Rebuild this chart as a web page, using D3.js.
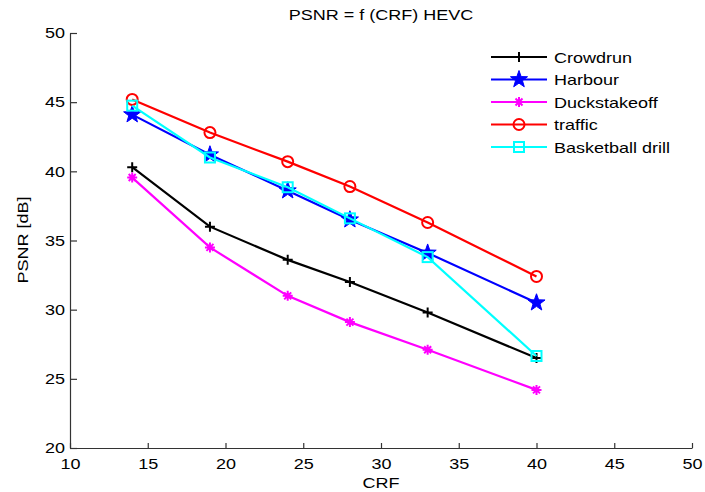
<!DOCTYPE html>
<html><head><meta charset="utf-8">
<script src="https://cdn.jsdelivr.net/npm/d3@7"></script>
<style>body{margin:0;background:#fff;} text{font-family:"Liberation Sans",Arial,sans-serif;}</style>
</head><body>
<svg id="c" width="705" height="492"></svg>
<script>
const crf = [14, 19, 24, 28, 33, 40];
const crowdrun = [40.3, 36.0, 33.6, 32.0, 29.8, 26.5];
const harbour = [44.1, 41.2, 38.6, 36.5, 34.1, 30.5];
const duckstakeoff = [39.55, 34.5, 31.0, 29.1, 27.1, 24.2];
const traffic = [45.2, 42.8, 40.7, 38.9, 36.3, 32.4];
const basketball = [44.75, 41.0, 38.85, 36.6, 33.8, 26.65];
const xTicks = [10, 15, 20, 25, 30, 35, 40, 45, 50];
const yTicks = [20, 25, 30, 35, 40, 45, 50];
const seriesNames = ["Crowdrun", "Harbour", "Duckstakeoff", "traffic", "Basketball drill"];

const series = [
  {name: seriesNames[0], vals: crowdrun, color: "#000000", marker: "plus"},
  {name: seriesNames[1], vals: harbour, color: "#0000ff", marker: "star5"},
  {name: seriesNames[2], vals: duckstakeoff, color: "#ff00ff", marker: "asterisk"},
  {name: seriesNames[3], vals: traffic, color: "#ff0000", marker: "circle"},
  {name: seriesNames[4], vals: basketball, color: "#00ffff", marker: "square"}
];

const svg = d3.select("#c");
const x = d3.scaleLinear().domain([10, 50]).range([70, 692]);
const y = d3.scaleLinear().domain([20, 50]).range([448, 33]);

// axes
const xAxis = svg.append("g").attr("transform", "translate(0,448)")
  .call(d3.axisBottom(x).tickValues(xTicks).tickSizeInner(-5).tickSizeOuter(0).tickPadding(8));
const yAxis = svg.append("g").attr("transform", "translate(70,0)")
  .call(d3.axisLeft(y).tickValues(yTicks).tickSizeInner(-7).tickSizeOuter(0).tickPadding(5));
[xAxis, yAxis].forEach(a => {
  a.select(".domain").attr("stroke", "#333").attr("stroke-width", 1.2);
  a.selectAll(".tick line").attr("stroke", "#333").attr("stroke-width", 1.2);
  a.selectAll("text").attr("fill", "#000").style("font-size", "15px").style("font-family", "'Liberation Sans',Arial,sans-serif");
});
xAxis.selectAll("text").attr("dy", "0.85em");

// labels
svg.append("text").attr("x", 381).attr("y", 20).attr("text-anchor", "middle").style("font-size", "15px").text("PSNR = f (CRF) HEVC");
svg.append("text").attr("x", 381).attr("y", 488).attr("text-anchor", "middle").style("font-size", "15px").text("CRF");
svg.append("text").attr("transform", "translate(28,240) rotate(-90)").attr("text-anchor", "middle").style("font-size", "15px").text("PSNR [dB]");

function drawMarker(g, type, color) {
  if (type === "plus") {
    g.append("path").attr("d", "M-5,0H5M0,-5V5").attr("stroke", color).attr("stroke-width", 2).attr("fill", "none");
  } else if (type === "star5") {
    const pts = [];
    for (let i = 0; i < 10; i++) {
      const r = i % 2 === 0 ? 9 : 3.6;
      const a = -Math.PI / 2 + i * Math.PI / 5;
      pts.push([r * Math.cos(a), r * Math.sin(a)]);
    }
    g.append("path").attr("d", "M" + pts.map(p => p.join(",")).join("L") + "Z").attr("fill", color).attr("stroke", color).attr("stroke-width", 1);
  } else if (type === "asterisk") {
    g.append("path").attr("d", "M-5,0H5M0,-5V5M-3.5,-3.5L3.5,3.5M-3.5,3.5L3.5,-3.5").attr("stroke", color).attr("stroke-width", 2).attr("fill", "none");
    g.append("circle").attr("r", 2.5).attr("fill", color);
  } else if (type === "circle") {
    g.append("circle").attr("r", 5.5).attr("fill", "none").attr("stroke", color).attr("stroke-width", 2);
  } else if (type === "square") {
    g.append("rect").attr("x", -5).attr("y", -5).attr("width", 10).attr("height", 10).attr("fill", "none").attr("stroke", color).attr("stroke-width", 2);
  }
}

const line = d3.line().x(d => x(d[0])).y(d => y(d[1]));
series.forEach(s => {
  const data = crf.map((c, i) => [c, s.vals[i]]);
  svg.append("path").datum(data).attr("d", line).attr("fill", "none").attr("stroke", s.color).attr("stroke-width", 2.2);
  data.forEach(d => {
    const g = svg.append("g").attr("transform", `translate(${x(d[0])},${y(d[1])})`);
    drawMarker(g, s.marker, s.color);
  });
});

// legend
const leg = svg.append("g");
series.forEach((s, i) => {
  const yy = 57 + i * 22.5;
  leg.append("line").attr("x1", 491).attr("x2", 547).attr("y1", yy).attr("y2", yy).attr("stroke", s.color).attr("stroke-width", 2.2);
  const g = leg.append("g").attr("transform", `translate(519,${yy})`);
  drawMarker(g, s.marker, s.color);
  leg.append("text").attr("x", 554).attr("y", yy + 5.5).style("font-size", "15px").text(s.name);
});

// horizontal stretch of all text to match the reference's wide glyphs
svg.selectAll("text").each(function() {
  const len = this.getComputedTextLength();
  d3.select(this).attr("textLength", len * 1.2).attr("lengthAdjust", "spacingAndGlyphs");
});
</script>
</body></html>
